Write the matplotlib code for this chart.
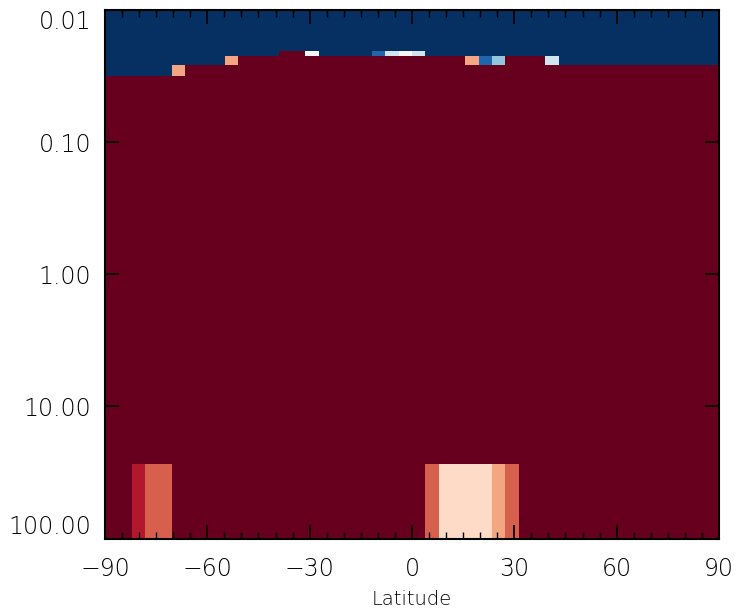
import numpy as np
import matplotlib.pyplot as plt
from matplotlib.ticker import FixedLocator, MultipleLocator, NullLocator

# grid: 46 latitude bands, pressure levels (edges)
nlat = 46
lat_edges = np.linspace(-90, 90, nlat + 1)
p_edges = [0.01, 0.0205, 0.0222, 0.0261, 0.0314, 27.5, 100.0]

# class index per cell (0 = dark blue ... 10 = dark red), one list per layer, top to bottom
row0 = [0] * 46
row1 = [0] * 13 + [10] * 2 + [5] + [0] * 4 + [1, 4, 5, 4] + [0] * 22
row2 = [0] * 9 + [7] + [10] * 17 + [7, 1, 3] + [10] * 3 + [4] + [0] * 12
row3 = [0] * 5 + [7] + [10] * 40
row4 = [10] * 46
row5 = [10] * 2 + [9] + [8] * 2 + [10] * 19 + [8] + [6] * 4 + [7, 8] + [10] * 15

data = np.array([row0, row1, row2, row3, row4, row5])

xticks = [-90, -60, -30, 0, 30, 60, 90]
yticks = [0.01, 0.1, 1, 10, 100]

plt.rcParams['font.family'] = 'DejaVu Sans'
plt.rcParams['font.weight'] = 'light'

fig = plt.figure(figsize=(7.52, 6.13), dpi=100)
ax = fig.add_axes([0.1396, 0.1215, 0.8165, 0.862])

cmap = plt.get_cmap('RdBu_r', 11)
ax.pcolormesh(lat_edges, p_edges, data, cmap=cmap, vmin=-0.5, vmax=10.5)

ax.set_yscale('log')
ax.set_ylim(100, 0.01)
ax.set_xlim(-90, 90)

ax.xaxis.set_major_locator(FixedLocator(xticks))
ax.xaxis.set_minor_locator(MultipleLocator(5))
ax.yaxis.set_major_locator(FixedLocator(yticks))
ax.yaxis.set_minor_locator(NullLocator())
ax.set_xticklabels(['\u221290', '\u221260', '\u221230', '0', '30', '60', '90'])
ax.set_yticklabels(['%.2f' % v for v in yticks])

ax.tick_params(which='both', direction='in', top=True, right=True, color='black',
               labelcolor='black')
ax.tick_params(which='major', length=10, width=1.2)
ax.tick_params(which='minor', length=5, width=1.0)
ax.tick_params(axis='x', pad=13, labelsize=17)
ax.tick_params(axis='y', pad=10, labelsize=17)
for s in ax.spines.values():
    s.set_linewidth(1.5)

# keep the end labels inside the axis range
ylabels = ax.get_yticklabels()
ylabels[0].set_va('top')
ylabels[-1].set_va('bottom')

ax.set_xlabel('Latitude', fontsize=14, fontweight='light', labelpad=6.5)

fig.savefig('out.png', dpi=100)
